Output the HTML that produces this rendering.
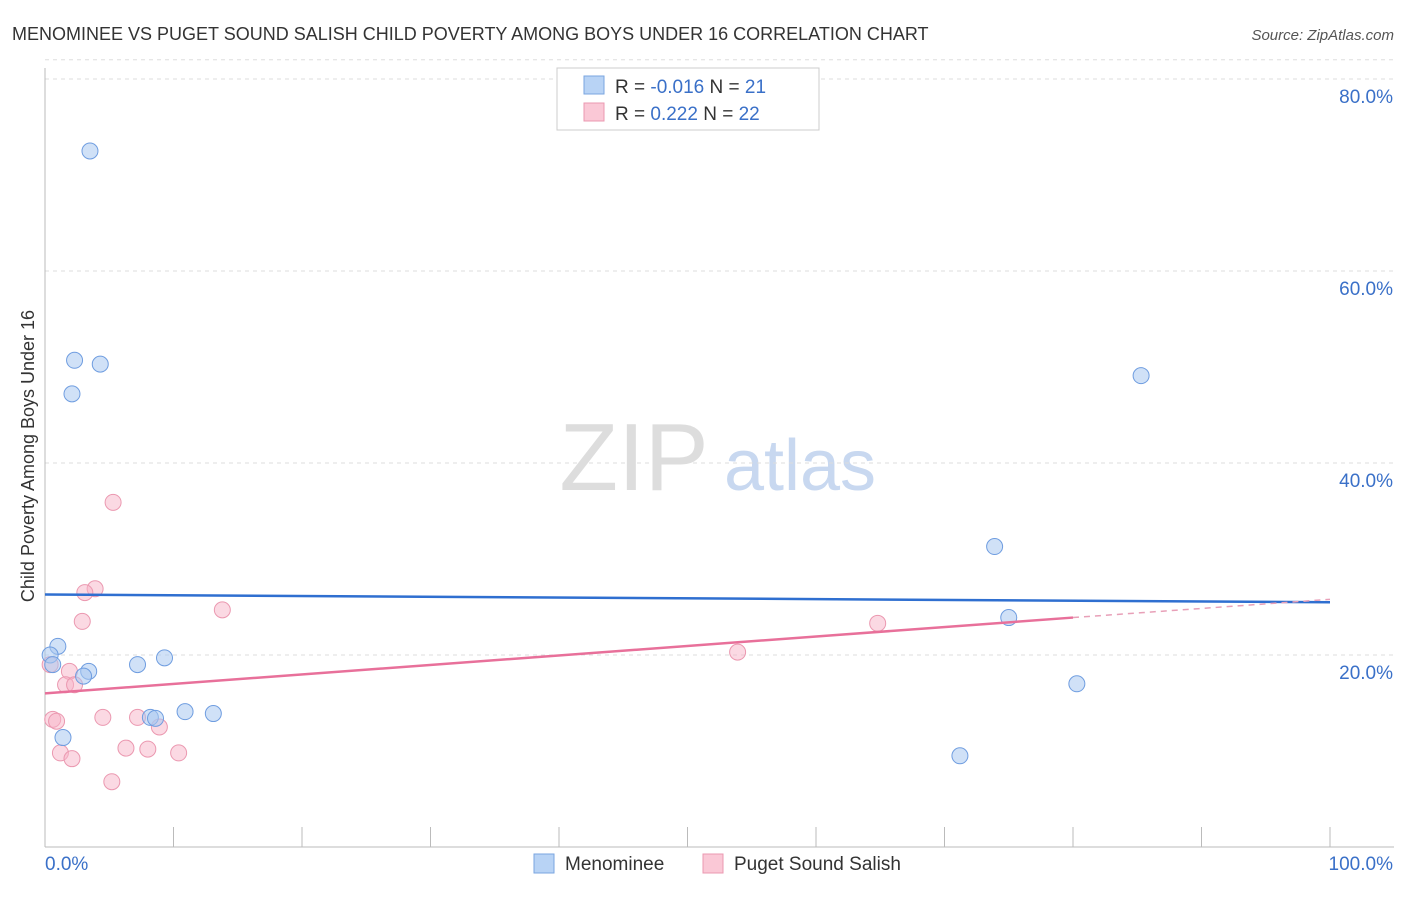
<!DOCTYPE html>
<html><head><meta charset="utf-8"><style>
body{margin:0;background:#fff;font-family:"Liberation Sans",sans-serif;}
svg text{font-family:"Liberation Sans",sans-serif;}
</style></head><body>
<svg id="c" width="1406" height="892" xmlns="http://www.w3.org/2000/svg">
<text x="12" y="40" font-size="18" fill="#333">MENOMINEE VS PUGET SOUND SALISH CHILD POVERTY AMONG BOYS UNDER 16 CORRELATION CHART</text>
<text x="1394" y="40" font-size="15" fill="#555" font-style="italic" text-anchor="end">Source: ZipAtlas.com</text>
<text x="34" y="456" font-size="18" fill="#333" text-anchor="middle" transform="rotate(-90 34 456)">Child Poverty Among Boys Under 16</text>
<g>
<text x="634" y="490" font-size="96" fill="#ddd" font-family="Liberation Serif" text-anchor="middle">ZIP</text>
<text x="800" y="490" font-size="72" fill="#c8d8f0" text-anchor="middle">atlas</text>
</g>
<g id="grid"></g><g id="marks"></g>
<g>
<rect x="557" y="68" width="262" height="62" fill="#fff" stroke="#ccc"/>
<rect x="584" y="76" width="20" height="18" fill="#b8d3f5" stroke="#7aa6e0"/>
<rect x="584" y="103" width="20" height="18" fill="#fac8d6" stroke="#eb98b0"/>
<text x="615" y="93" font-size="19" fill="#333">R = <tspan fill="#3a70c8">-0.016</tspan>    N = <tspan fill="#3a70c8">21</tspan></text>
<text x="615" y="120" font-size="19" fill="#333">R =   <tspan fill="#3a70c8">0.222</tspan>    N = <tspan fill="#3a70c8">22</tspan></text>
</g>
<g>
<rect x="534" y="854" width="20" height="19" fill="#b8d3f5" stroke="#7aa6e0"/>
<text x="565" y="870" font-size="19" fill="#333">Menominee</text>
<rect x="703" y="854" width="20" height="19" fill="#fac8d6" stroke="#eb98b0"/>
<text x="734" y="870" font-size="19" fill="#333">Puget Sound Salish</text>
</g>
</svg>
<script>
const yTicks=[20,40,60,80];
const yTickLabels=["20.0%","40.0%","60.0%","80.0%"];
const xTicks=[0,10,20,30,40,50,60,70,80,90,100];
const menX=[3.5,2.3,4.3,2.1,1.0,0.4,0.6,3.4,3.0,7.2,9.3,1.4,8.2,8.6,10.9,13.1,85.3,73.9,75.0,80.3,71.2];
const menY=[72.5,50.7,50.3,47.2,20.9,20.0,19.0,18.3,17.8,19.0,19.7,11.4,13.5,13.4,14.1,13.9,49.1,31.3,23.9,17.0,9.5];
const pugX=[5.3,3.9,3.1,2.9,13.8,0.4,1.9,1.6,2.3,0.6,0.9,4.5,7.2,8.9,6.3,8.0,10.4,1.2,2.1,5.2,53.9,64.8];
const pugY=[35.9,26.9,26.5,23.5,24.7,19.0,18.3,16.9,16.9,13.3,13.1,13.5,13.5,12.5,10.3,10.2,9.8,9.8,9.2,6.8,20.3,23.3];
const menTrend=[26.3,25.5];
const pugTrend=[16.0,23.9,25.8];
const X=v=>45+v*12.85, Y=v=>847-v*9.6;
const ns="http://www.w3.org/2000/svg";
const grid=document.getElementById('grid'), marks=document.getElementById('marks');
function mk(tag,attrs,parent){const e=document.createElementNS(ns,tag);for(const k in attrs)e.setAttribute(k,attrs[k]);parent.appendChild(e);return e;}
yTicks.forEach((t,i)=>{
 const l=mk('line',{x1:45,x2:1394,y1:Y(t),y2:Y(t),stroke:'#ddd','stroke-dasharray':'4 4'},grid);
 
 
 const tx=mk('text',{x:1393,y:Y(t)+24,'font-size':19,fill:'#3a70c8','text-anchor':'end'},grid);
 tx.textContent=yTickLabels[i];
 
 
});
const tg=mk('line',{x1:45,x2:1394,y1:Y(82),y2:Y(82),stroke:'#ddd','stroke-dasharray':'4 4'},grid);


const ya=mk('line',{x1:45,x2:45,y1:68,y2:847,stroke:'#bbb'},grid);


const xa=mk('line',{x1:45,x2:1394,y1:847,y2:847,stroke:'#bbb'},grid);


xTicks.forEach(t=>{
 const l=mk('line',{x1:X(t),x2:X(t),y1:827,y2:847,stroke:'#bbb'},grid);
 
 
});
const x0=mk('text',{x:45,y:870,'font-size':19,fill:'#3a70c8'},grid);x0.textContent="0.0%";


const x1=mk('text',{x:1393,y:870,'font-size':19,fill:'#3a70c8','text-anchor':'end'},grid);x1.textContent="100.0%";


pugX.forEach((v,i)=>{
 const c=mk('circle',{cx:X(v),cy:Y(pugY[i]),r:8,fill:'rgba(248,180,200,0.5)',stroke:'#eb98b0'},marks);
 
 
});
menX.forEach((v,i)=>{
 const c=mk('circle',{cx:X(v),cy:Y(menY[i]),r:8,fill:'rgba(170,200,240,0.55)',stroke:'#6f9de0'},marks);
 
 
});
const bt=mk('line',{x1:X(0),y1:Y(menTrend[0]),x2:X(100),y2:Y(menTrend[1]),stroke:'#2f6fd0','stroke-width':2.5},marks);


const pt=mk('line',{x1:X(0),y1:Y(pugTrend[0]),x2:X(80),y2:Y(pugTrend[1]),stroke:'#e8709a','stroke-width':2.5},marks);


const pd=mk('line',{x1:X(80),y1:Y(pugTrend[1]),x2:X(100),y2:Y(pugTrend[2]),stroke:'#e8a0b8','stroke-width':1.5,'stroke-dasharray':'6 5'},marks);


</script>
</body></html>
